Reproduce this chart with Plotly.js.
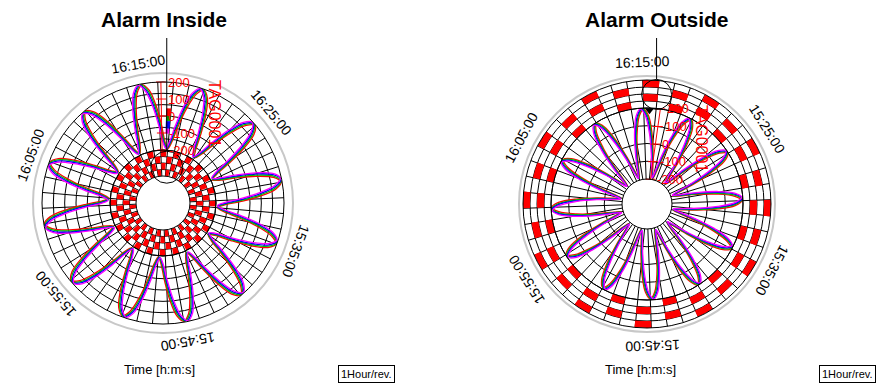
<!DOCTYPE html>
<html><head><meta charset="utf-8">
<script src="https://cdn.plot.ly/plotly-3.0.1.min.js"></script>
<style>html,body{margin:0;padding:0;background:#fff}#chart{width:888px;height:383px}</style>
</head><body><div id="chart"></div>
<script>
// ---------- DATA ----------
// sample times, minutes after 15:00 (one sample every 30 s, 1 hour shown)
const sampleMin = [16,16.5,17,17.5,18,18.5,19,19.5,20,20.5,21,21.5,22,22.5,23,23.5,24,24.5,25,25.5,26,26.5,27,27.5,28,28.5,29,29.5,30,30.5,31,31.5,32,32.5,33,33.5,34,34.5,35,35.5,36,36.5,37,37.5,38,38.5,39,39.5,40,40.5,41,41.5,42,42.5,43,43.5,44,44.5,45,45.5,46,46.5,47,47.5,48,48.5,49,49.5,50,50.5,51,51.5,52,52.5,53,53.5,54,54.5,55,55.5,56,56.5,57,57.5,58,58.5,59,59.5,60,60.5,61,61.5,62,62.5,63,63.5,64,64.5,65,65.5,66,66.5,67,67.5,68,68.5,69,69.5,70,70.5,71,71.5,72,72.5,73,73.5,74,74.5,75,75.5,76];
const penNames = ['TAG0001','TAG0002','TAG0003','TAG0004'];
const penColors = ['#ff0000','#00c000','#0000ff','#ff00ff'];
const penLagSec = [0,-7,-14,-21];
const valuesRed = [60,-58,-154,-190,-154,-58,60,157,194,157, 61,-57,-153,-188,-152,-57,61,158,196,158, 59,-59,-155,-191,-155,-59,59,156,193,156, 60,-58,-153,-189,-153,-58,60,157,195,158, 61,-56,-152,-187,-152,-56,61,159,197,159, 60,-58,-154,-190,-154,-58,60,157,194,157, 59,-60,-156,-192,-156,-60,59,155,192,155, 60,-58,-153,-189,-153,-58,60,157,195,158, 61,-57,-152,-188,-152,-57,61,158,196,158, 59,-59,-155,-191,-155,-59,59,156,193,156, 60,-58,-154,-190,-154,-58,60,157,195,157, 60,-58,-153,-189,-153,-58,60,157,194,157, 60];
const valuesGreen = [61,-57,-153,-189,-153,-57,61,158,195,158, 60,-58,-154,-189,-153,-58,60,157,195,157, 60,-58,-154,-190,-154,-58,60,157,194,157, 61,-57,-152,-188,-152,-57,61,158,196,158, 60,-57,-153,-188,-153,-57,60,158,196,158, 59,-59,-155,-191,-155,-59,59,156,193,156, 60,-59,-155,-191,-155,-59,60,156,193,156, 61,-57,-152,-188,-152,-57,61,158,196,158, 60,-58,-153,-189,-153,-58,60,157,195,157, 60,-58,-154,-190,-154,-58,60,157,194,157, 61,-57,-153,-189,-153,-57,61,158,195,158, 60,-58,-154,-190,-154,-58,60,157,195,157, 60];
const valuesBlue = [59,-59,-155,-191,-155,-59,59,156,193,156, 60,-58,-153,-189,-153,-58,60,157,195,158, 61,-57,-152,-188,-152,-57,61,158,196,158, 60,-58,-154,-190,-154,-58,60,157,194,157, 60,-58,-153,-189,-153,-58,60,157,195,157, 61,-57,-153,-188,-153,-57,61,158,195,158, 59,-59,-155,-191,-155,-59,59,156,193,156, 60,-58,-154,-190,-154,-58,60,157,194,157, 61,-57,-152,-188,-152,-57,61,158,196,158, 60,-58,-154,-189,-154,-58,60,157,194,157, 60,-58,-153,-190,-153,-58,60,157,195,157, 59,-59,-154,-190,-154,-59,59,156,194,156, 59];
const valuesMagenta = [60,-58,-153,-189,-153,-58,60,157,195,157, 61,-57,-152,-188,-152,-57,61,158,196,158, 60,-58,-154,-190,-154,-58,60,157,194,157, 59,-59,-155,-191,-155,-59,59,156,193,156, 60,-58,-154,-189,-153,-58,60,157,195,157, 61,-57,-152,-188,-152,-57,61,158,196,158, 60,-58,-153,-189,-153,-58,60,157,195,157, 60,-58,-154,-190,-154,-58,60,157,194,157, 59,-59,-155,-191,-155,-59,59,156,193,156, 61,-57,-153,-188,-153,-57,61,158,195,158, 60,-58,-154,-190,-154,-58,60,157,194,157, 60,-58,-153,-189,-153,-58,60,157,195,157, 60];
// alarm ON periods (start, minutes after 15:00), one array per alarm ring (inner -> outer)
const insideAlarmDur = 1.05;
const insideAlarm1 = [15,17.5,20,22.5,25,27.5,30,32.5,35,37.5,40,42.5,45,47.5,50,52.5,55,57.5,60,62.5,65,67.5,70,72.5];
const insideAlarm2 = [16.25,18.75,21.25,23.75,26.25,28.75,31.25,33.75,36.25,38.75,41.25,43.75,46.25,48.75,51.25,53.75,56.25,58.75,61.25,63.75,66.25,68.75,71.25,73.75];
const insideAlarm3 = [15,17.5,20,22.5,25,27.5,30,32.5,35,37.5,40,42.5,45,47.5,50,52.5,55,57.5,60,62.5,65,67.5,70,72.5];
const insideAlarm4 = [16.25,18.75,21.25,23.75,26.25,28.75,31.25,33.75,36.25,38.75,41.25,43.75,46.25,48.75,51.25,53.75,56.25,58.75,61.25,63.75,66.25,68.75,71.25,73.75];
const outsideAlarmDur = 1.3;
const outsideAlarm1 = [17.5,22.5,27.5,32.5,37.5,42.5,47.5,52.5,57.5,62.5,67.5,72.5];
const outsideAlarm2 = [15,20,25,30,35,40,45,50,55,60,65,70];
const outsideAlarm3 = [17.5,22.5,27.5,32.5,37.5,42.5,47.5,52.5,57.5,62.5,67.5,72.5];
const outsideAlarm4 = [15,20,25,30,35,40,45,50,55,60,65,70];
// axis labels
const radialTicks = [-200,-100,0,100,200];
const radialTickText = ['-200','-100','0','100','200'];
const leftTimeLabels = ['16:15:00','16:25:00','15:35:00','15:45:00','15:55:00','16:05:00'];
const leftTimeMin = [75,85,35,45,55,65];
const rightTimeLabels = ['16:15:00','15:25:00','15:35:00','15:45:00','15:55:00','16:05:00'];
const rightTimeMin = [75,25,35,45,55,65];
const leftTopMin = 76 + 40/60;    // time at 12 o'clock
const rightTopMin = 75 + 20/60;
const leftCursorMin = 77 + 40/60;
const rightCursorMin = 76 + 10/60;
const leftPointerBase = [0,-29,-74,-103];
const leftPointerTop  = [46,0,-29,-74];

// ---------- LAYOUT GEOMETRY ----------
const W = 888, H = 383;
const FONT = 'Liberation Sans, Arial, sans-serif';
const L = {cx:163, cy:203, gray:130, tOut:121, tIn:53, aOut:53, aIn:27, gridDiv:6, cursorR:36, cursorCirc:16, labelR:141, axisAngle:91, tagX:215, tagY:113, timeX:159, boxX:366, titleX:164};
const R = {cx:647, cy:204, gray:128, tOut:96, tIn:25, aOut:124, aIn:96, gridDiv:4, cursorR:110, cursorCirc:15, labelR:142, axisAngle:82, tagX:702, tagY:138, timeX:640, boxX:847, titleX:657};

function dom(c, rad){ return {x:[(c.cx-rad)/W,(c.cx+rad)/W], y:[(H-c.cy-rad)/H,(H-c.cy+rad)/H]}; }
function norm(a){ return ((a+180)%360+360)%360-180; }
function rotFor(topMin){ return norm(90 + 6*topMin); }
const spokeDeg = 7.5;
const rMin = radialTicks[0], rMax = radialTicks[radialTicks.length-1];

function angAxis(rot){
  return {direction:'clockwise', rotation:rot, tickmode:'linear', tick0:0, dtick:spokeDeg,
    showticklabels:false, ticks:'', showgrid:true, gridcolor:'#000', gridwidth:1,
    showline:true, linecolor:'#000', linewidth:1};
}
function trendRadial(c){
  const gv = []; for (let k = 1; k < c.gridDiv; k++) gv.push(rMin + k*(rMax - rMin)/c.gridDiv);
  return {range:[rMin, rMax], tickmode:'array', tickvals:gv, showticklabels:false,
    angle:c.axisAngle, side:'clockwise', showline:false, ticks:'',
    showgrid:true, gridcolor:'#000', gridwidth:1};
}
function alarmRadial(){
  return {range:[0,4], tickmode:'array', tickvals:[1,2,3], showticklabels:false, ticks:'',
    showgrid:true, gridcolor:'#000', gridwidth:1, showline:false};
}

const data = [];
const pens = [valuesRed, valuesGreen, valuesBlue, valuesMagenta];
const rotL = rotFor(leftTopMin), rotR = rotFor(rightTopMin);

function addChart(c, alarmSub, trendSub, rot, rings, dur){
  rings.forEach((ring, k) => {
    data.push({type:'barpolar', subplot:alarmSub,
      theta: ring.map(s => (s + dur/2)*6), width: ring.map(() => dur*6),
      base: ring.map(() => k), r: ring.map(() => 1),
      marker:{color:'#ff0000', line:{width:0}}, hoverinfo:'skip', showlegend:false});
  });
  pens.forEach((vals, p) => {
    data.push({type:'scatterpolar', subplot:trendSub, mode:'lines', name:penNames[p],
      r: vals, theta: sampleMin.map(t => (t + penLagSec[p]/60)*6),
      line:{color:penColors[p], width:1.3, shape:'spline'}, showlegend:false, hoverinfo:'skip'});
  });
  // red radial axis with small tick marks
  const th = rot - c.axisAngle;
  data.push({type:'scatterpolar', subplot:trendSub, mode:'lines+markers', r:radialTicks,
    theta:radialTicks.map(() => th), line:{color:'#ff0000', width:1},
    marker:{symbol:'line-ew', size:7, line:{color:'#ff0000', width:1}}, showlegend:false, hoverinfo:'skip'});
}
addChart(L, 'polar', 'polar2', rotL, [insideAlarm1, insideAlarm2, insideAlarm3, insideAlarm4], insideAlarmDur);
addChart(R, 'polar4', 'polar3', rotR, [outsideAlarm1, outsideAlarm2, outsideAlarm3, outsideAlarm4], outsideAlarmDur);

data.push({type:'barpolar', subplot:'polar2',
  theta: leftPointerTop.map(() => leftCursorMin*6 - 2.5), width: leftPointerTop.map(() => 3),
  base: leftPointerBase, r: leftPointerTop.map((v,i) => v - leftPointerBase[i]),
  marker:{color:penColors, line:{width:0}}, showlegend:false, hoverinfo:'skip'});
data.push({type:'scatterpolar', subplot:'polar3', mode:'markers', r:[188], theta:[rightCursorMin*6 - 3.5],
  marker:{symbol:'triangle-down', size:8, color:'#000'}, showlegend:false, hoverinfo:'skip'});

const annotations = [];
const shapes = [];
function px(x){ return x/W; } function py(y){ return 1 - y/H; }
function addDecor(c, labels, mins, rot, title, cursorMin){
  labels.forEach((txt, i) => {
    const a = rot - 6*mins[i];
    const rad = a*Math.PI/180;
    const x = c.cx + c.labelR*Math.cos(rad), y = c.cy - c.labelR*Math.sin(rad);
    annotations.push({text:txt, xref:'paper', yref:'paper', x:px(x), y:py(y), xanchor:'center', yanchor:'middle',
      showarrow:false, textangle:norm(90 - a), font:{family:FONT, size:14, color:'#000'}});
  });
  radialTicks.forEach((v, i) => {
    const rp = c.tIn + (v - rMin)/(rMax - rMin)*(c.tOut - c.tIn);
    const ar = c.axisAngle*Math.PI/180;
    const x = c.cx + rp*Math.cos(ar), y = c.cy - rp*Math.sin(ar);
    annotations.push({text:radialTickText[i], xref:'paper', yref:'paper', x:px(x+5), y:py(y), xanchor:'left', yanchor:'middle',
      showarrow:false, font:{family:FONT, size:13, color:'#ff0000'}});
  });
  annotations.push({text:'<b>'+title+'</b>', xref:'paper', yref:'paper', x:px(c.titleX), y:py(19), xanchor:'center', yanchor:'middle',
    showarrow:false, font:{family:FONT, size:21, color:'#000'}});
  annotations.push({text:'Time [h:m:s]', xref:'paper', yref:'paper', x:px(c.timeX), y:py(369), xanchor:'center', yanchor:'middle',
    showarrow:false, font:{family:FONT, size:13, color:'#000'}});
  annotations.push({text:'1Hour/rev.', xref:'paper', yref:'paper', x:px(c.boxX), y:py(374), xanchor:'center', yanchor:'middle',
    showarrow:false, font:{family:FONT, size:11, color:'#000'}, bordercolor:'#000', borderwidth:1, borderpad:2});
  annotations.push({text:'TAG0001', xref:'paper', yref:'paper', x:px(c.tagX), y:py(c.tagY), xanchor:'center', yanchor:'middle',
    showarrow:false, textangle:90, font:{family:FONT, size:16, color:'#ff0000'}});
  shapes.push({type:'circle', xref:'paper', yref:'paper', x0:px(c.cx-c.gray), x1:px(c.cx+c.gray),
    y0:py(c.cy+c.gray), y1:py(c.cy-c.gray), line:{color:'#c8c8c8', width:2}});
  const ca = (rot - 6*cursorMin)*Math.PI/180;
  const ccx = c.cx + c.cursorR*Math.cos(ca), ccy = c.cy - c.cursorR*Math.sin(ca);
  shapes.push({type:'circle', xref:'paper', yref:'paper', x0:px(ccx-c.cursorCirc), x1:px(ccx+c.cursorCirc),
    y0:py(ccy+c.cursorCirc), y1:py(ccy-c.cursorCirc), line:{color:'#000', width:1}});
  shapes.push({type:'line', xref:'paper', yref:'paper', x0:px(ccx), x1:px(ccx), y0:py(38), y1:py(ccy-c.cursorCirc),
    line:{color:'#000', width:1}});
}
addDecor(L, leftTimeLabels, leftTimeMin, rotL, 'Alarm Inside', leftCursorMin);
addDecor(R, rightTimeLabels, rightTimeMin, rotR, 'Alarm Outside', rightCursorMin);

const layout = {
  width:W, height:H, margin:{l:0,r:0,t:0,b:0}, paper_bgcolor:'#fff', showlegend:false,
  font:{family:FONT},
  polar:  {domain:dom(L, L.aOut), hole:L.aIn/L.aOut, bgcolor:'#fff', angularaxis:angAxis(rotL), radialaxis:alarmRadial()},
  polar2: {domain:dom(L, L.tOut), hole:L.tIn/L.tOut, bgcolor:'rgba(0,0,0,0)', angularaxis:angAxis(rotL), radialaxis:trendRadial(L)},
  polar3: {domain:dom(R, R.tOut), hole:R.tIn/R.tOut, bgcolor:'rgba(0,0,0,0)', angularaxis:angAxis(rotR), radialaxis:trendRadial(R)},
  polar4: {domain:dom(R, R.aOut), hole:R.aIn/R.aOut, bgcolor:'rgba(0,0,0,0)', angularaxis:angAxis(rotR), radialaxis:alarmRadial()},
  annotations, shapes
};
Plotly.newPlot('chart', data, layout, {staticPlot:true, displayModeBar:false});
</script>
</body></html>
